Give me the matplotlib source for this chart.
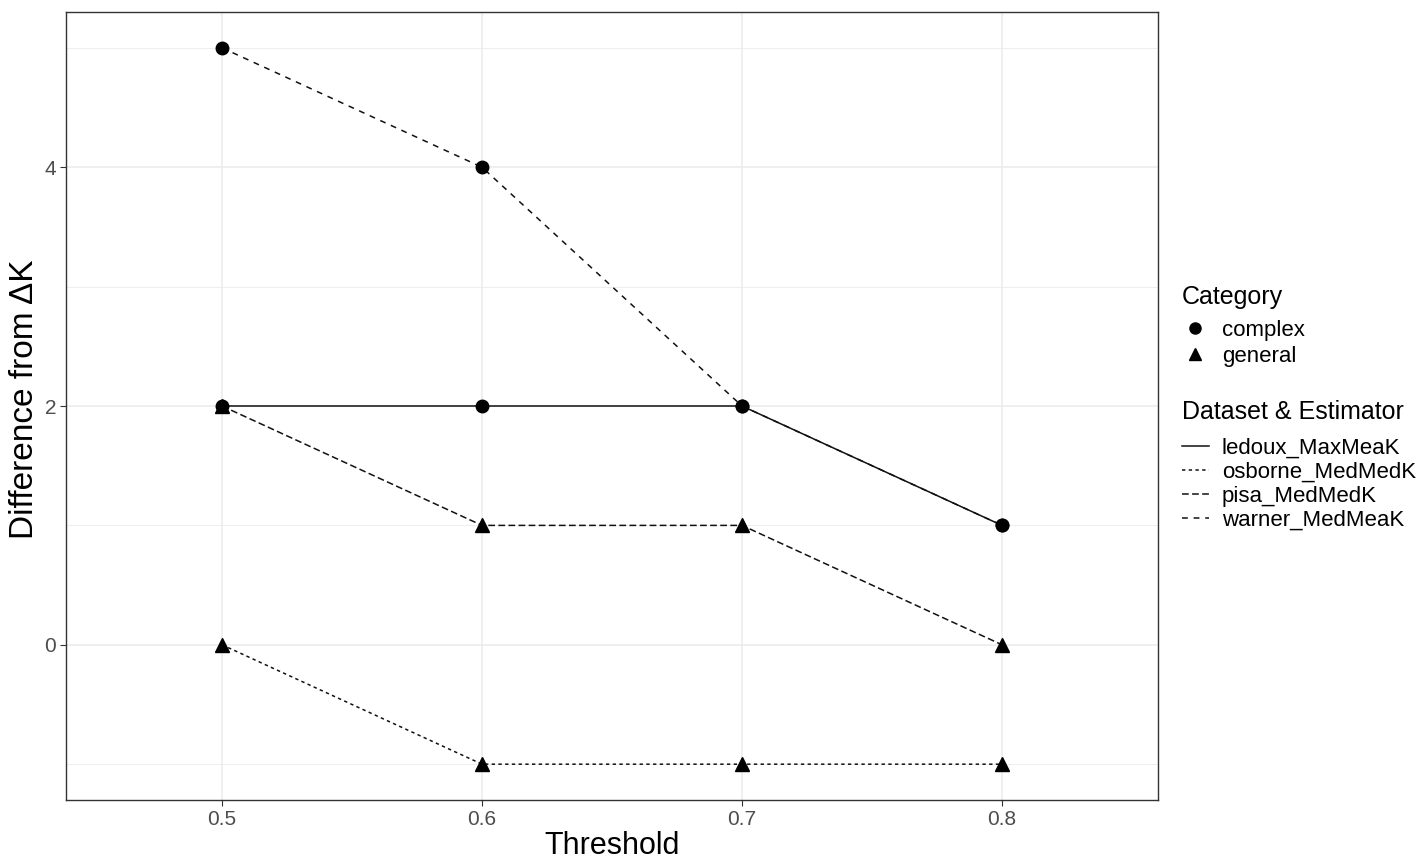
import matplotlib
matplotlib.use("Agg")
import matplotlib.pyplot as plt
from matplotlib.lines import Line2D

plt.rcParams['font.family'] = ['Liberation Sans', 'DejaVu Sans']

thresholds = ["0.5", "0.6", "0.7", "0.8"]
series_names = ["ledoux_MaxMeaK", "osborne_MedMedK", "pisa_MedMedK", "warner_MedMeaK"]
series_category = ["complex", "general", "general", "complex"]
ledoux = [2, 2, 2, 1]
osborne = [0, -1, -1, -1]
pisa = [2, 1, 1, 0]
warner = [5, 4, 2, 1]
series_values = [ledoux, osborne, pisa, warner]

dash_styles = {
    "ledoux_MaxMeaK": "-",
    "osborne_MedMedK": (0, (2.2, 2.2)),
    "pisa_MedMedK": (0, (4.4, 2.2)),
    "warner_MedMeaK": (0, (3.8, 3.8)),
}
markers = {"complex": "o", "general": "^"}

fig = plt.figure(figsize=(14.21, 8.59), dpi=100)
ax = fig.add_axes([66 / 1421, 1 - 800 / 859, (1158 - 66) / 1421, (800 - 12) / 859])

# lines first, then points on top (like geom_line + geom_point)
for name, vals in zip(series_names, series_values):
    ax.plot(thresholds, vals, color="#111111", lw=1.1, linestyle=dash_styles[name], zorder=3)
for name, cat, vals in zip(series_names, series_category, series_values):
    ax.plot(thresholds, vals, linestyle="none", marker=markers[cat],
            markersize=9 if cat == "complex" else 10, color="black", zorder=4)

ax.set_xlim(-0.6, 3.6)
ax.set_ylim(-1.3, 5.3)
ax.set_yticks([0, 2, 4])
ax.set_yticks([-1, 1, 3, 5], minor=True)
ax.grid(True, which="major", color="#EBEBEB", lw=1.1, zorder=0)
ax.grid(True, which="minor", axis="y", color="#EBEBEB", lw=0.6, zorder=0)
ax.tick_params(which="major", colors="#333333", labelcolor="#4D4D4D",
               labelsize=15, length=4, width=0.8, pad=3)
ax.tick_params(which="minor", length=0)
for sp in ax.spines.values():
    sp.set_color("#333333")
    sp.set_linewidth(1.0)

ax.set_xlabel("Threshold", fontsize=22)
ax.xaxis.set_label_coords(0.5, -0.039)
ax.set_ylabel("Difference from ΔK", fontsize=24)
ax.yaxis.set_label_coords(-0.024, 0.509)

cat_handles = [Line2D([], [], linestyle="none", marker=markers[c], color="black",
                      markersize=8) for c in ["complex", "general"]]
leg1 = fig.legend(cat_handles, ["complex", "general"], title="Category",
                  loc="upper left", bbox_to_anchor=(1173 / 1421, 1 - 276 / 859),
                  frameon=False, fontsize=16, title_fontsize=18,
                  handlelength=1.2, handletextpad=0.6, labelspacing=0.22,
                  borderaxespad=0, borderpad=0.4, alignment="left")
leg1._legend_box.sep = 8
line_handles = [Line2D([], [], color="#111111", lw=1.1, linestyle=dash_styles[n])
                for n in series_names]
leg2 = fig.legend(line_handles, series_names, title="Dataset & Estimator",
                  loc="upper left", bbox_to_anchor=(1173 / 1421, 1 - 391 / 859),
                  frameon=False, fontsize=16, title_fontsize=18,
                  handlelength=1.2, handletextpad=0.6, labelspacing=0.13,
                  borderaxespad=0, borderpad=0.4, alignment="left")
leg2._legend_box.sep = 10

fig.savefig("out.png", dpi=100)
